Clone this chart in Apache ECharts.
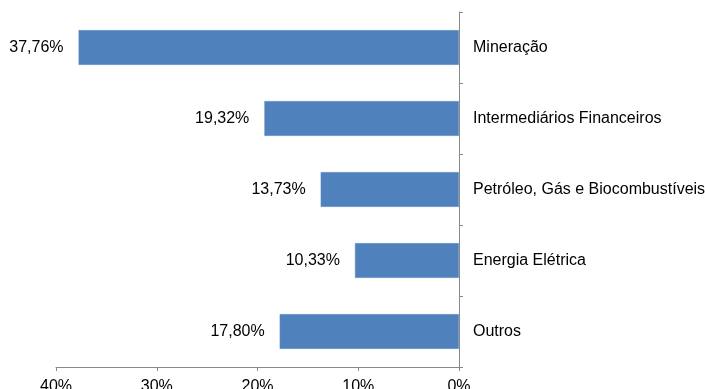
<!DOCTYPE html>
<html><head><meta charset="utf-8">
<script src="https://cdn.jsdelivr.net/npm/echarts@6/dist/echarts.min.js"></script>
<style>html,body{margin:0;padding:0;background:#fff}#c{width:705px;height:389px}</style>
</head><body><div id="c"></div>
<script>
const categories = ['Mineração', 'Intermediários Financeiros', 'Petróleo, Gás e Biocombustíveis', 'Energia Elétrica', 'Outros'];
const values = [37.76, 19.32, 13.73, 10.33, 17.80];
const tickLabels = ['0%', '10%', '20%', '30%', '40%'];

const chart = echarts.init(document.getElementById('c'), null, {renderer: 'canvas'});
const font = 'Liberation Sans, Arial, sans-serif';
chart.setOption({
  animation: false,
  grid: {left: 56, right: 246, top: 12, bottom: 22, containLabel: false, outerBoundsMode: 'none'},
  xAxis: {
    type: 'value', inverse: true, min: 0, max: 40, interval: 10,
    axisLine: {show: true, lineStyle: {color: '#888', width: 1}},
    axisTick: {show: true, length: 4, lineStyle: {color: '#888'}},
    splitLine: {show: false},
    axisLabel: {margin: 12, fontFamily: font, fontSize: 16, color: '#000',
      formatter: v => tickLabels[Math.round(v / 10)]}
  },
  yAxis: {
    type: 'category', position: 'right', inverse: true, data: categories,
    axisLine: {show: true, lineStyle: {color: '#888', width: 1}},
    axisTick: {show: true, length: 4, lineStyle: {color: '#888'}},
    axisLabel: {margin: 14, fontFamily: font, fontSize: 16, color: '#000', align: 'left'}
  },
  series: [{
    type: 'bar', barCategoryGap: '51%',
    itemStyle: {color: '#4F81BD', borderColor: '#6f97c9', borderWidth: 0.5},
    label: {show: true, position: 'left', distance: 15, fontFamily: font, fontSize: 16, color: '#000',
      formatter: p => p.value.toFixed(2).replace('.', ',') + '%'},
    data: values
  }]
});
</script></body></html>
